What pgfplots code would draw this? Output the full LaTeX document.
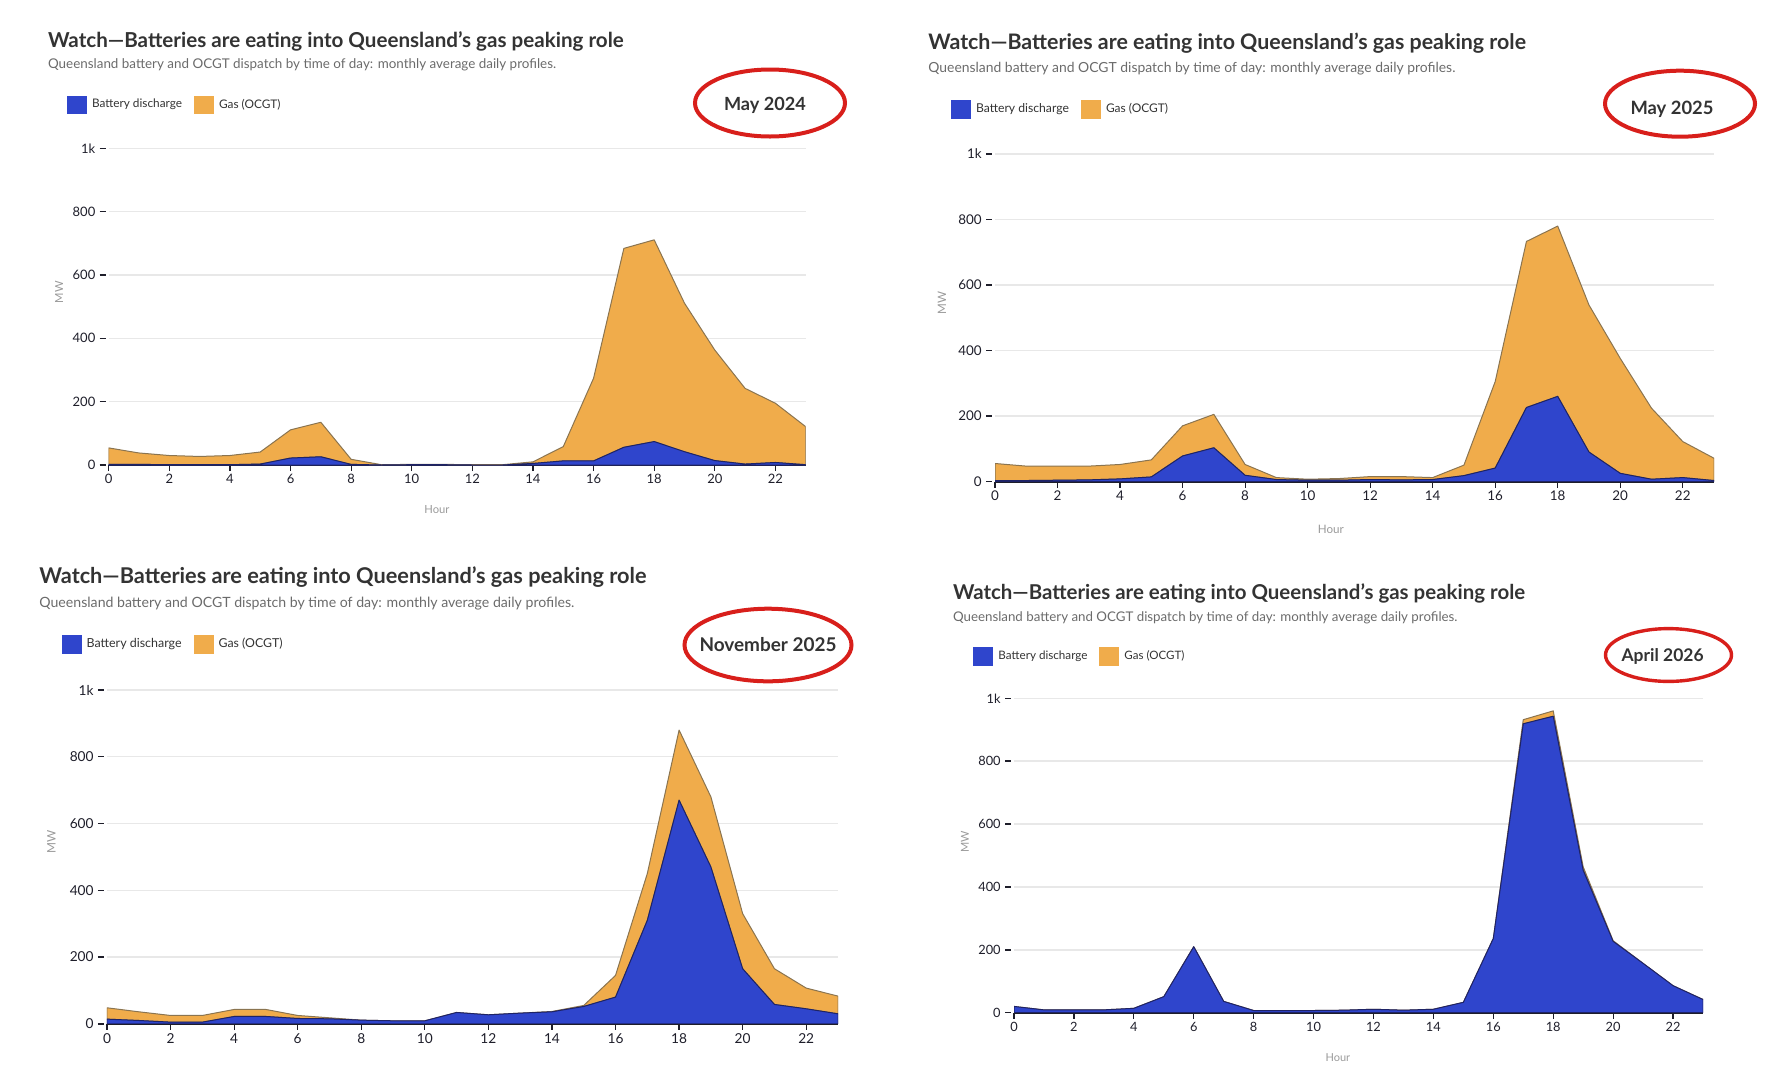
\documentclass[border=0pt]{standalone}
\usepackage{fontspec}
\setmainfont{Lato}
\usepackage{graphicx}
\usepackage{pgfplots}
\pgfplotsset{compat=1.18}

\definecolor{batt}{HTML}{2F45CC}
\definecolor{gas}{HTML}{F0AC4B}
\definecolor{battline}{HTML}{1E2366}
\definecolor{gasline}{HTML}{8A7450}
\definecolor{gridc}{HTML}{E8E8E8}
\definecolor{axisc}{HTML}{1E1E2A}
\definecolor{titlec}{HTML}{333333}
\definecolor{subc}{HTML}{6B6B6B}
\definecolor{labc}{HTML}{9A9A9A}
\definecolor{ringc}{HTML}{D81F1B}

\pgfplotsset{
  panel/.style={
    scale only axis, xmin=0, xmax=23, ymin=0, ymax=1000,
    axis x line*=bottom, axis y line*=left,
    y axis line style={draw=none},
    x axis line style={draw=axisc, line width=1pt},
    xtick={0,2,...,22},
    ytick={0,200,400,600,800,1000},
    yticklabels={0,200,400,600,800,1k},
    tick align=outside,
    major tick length=3pt,
    xtick style={draw=axisc, line width=0.6pt},
    ytick style={draw=axisc, line width=0.7pt, xshift=-1.5pt},
    yticklabel style={xshift=-1.5pt, inner sep=2pt, text=axisc},
    xticklabel style={inner sep=1.5pt, text=axisc},
    /pgf/number format/assume math mode=true,
    ymajorgrids, grid style={draw=gridc, line width=0.7pt},
    stack plots=y,
    legend columns=2,
    legend style={draw=none, fill=none, inner sep=0pt, outer sep=0pt, anchor=west,
      nodes={inner sep=0pt}, cells={anchor=west}, text=titlec,
      /tikz/every odd column/.append style={column sep=2.5pt},
      /tikz/every even column/.append style={column sep=6pt}},
    legend image code/.code={\fill[##1, draw=none] (0pt,-0.47em) rectangle (1em,0.47em);},
    every axis y label/.style={rotate=90, anchor=center, text=labc},
    every axis x label/.style={anchor=center, text=labc},
  },
  battplot/.style={fill=batt, draw=battline, line width=0.5pt, line join=round},
  gasplot/.style={fill=gas, draw=gasline, line width=0.5pt, line join=round},
}

\newcommand{\ttl}{\bfseries Watch—Batteries are eating into Queensland’s gas peaking role}
\newcommand{\sub}{Queensland battery and OCGT dispatch by time of day: monthly average daily profiles.}

\begin{document}
\begin{tikzpicture}
\useasboundingbox (0pt,0pt) rectangle (883.5pt,-538.5pt);

% ---------------- Panel 1: May 2024
\node[anchor=west, inner sep=0pt, text=titlec] at (23.85pt,-20.5pt) {\resizebox{287.75pt}{!}{\ttl}};
\node[anchor=west, inner sep=0pt, text=subc] at (23.85pt,-32.5pt) {\resizebox{254pt}{!}{\sub}};
\node[inner sep=0pt, text=titlec] at (382.5pt,-52.5pt) {\resizebox{41pt}{!}{\bfseries May 2024}};
\draw[ringc, line width=2pt] (385pt,-51.5pt) ellipse [x radius=37.5pt, y radius=16.75pt];
\begin{axis}[panel,
  at={(54.35pt,-232.5pt)}, anchor=south west, width=348.5pt, height=158.35pt,
  legend style={at={(axis description cs:-0.0598,1.1367)}, font=\fontsize{8}{9}\selectfont},
  tick label style={font=\fontsize{6.5}{7.5}\selectfont},
  label style={font=\fontsize{5.6}{6.5}\selectfont},
  xlabel={Hour}, ylabel={MW},
  x label style={at={(axis description cs:0.471,-0.139)}},
  y label style={at={(axis description cs:-0.0713,0.546)}},
]
\addplot[battplot] coordinates {(0,2)(1,2)(2,1)(3,1)(4,1)(5,3)(6,22)(7,26)(8,2)(9,0)(10,1)(11,1)(12,0)(13,0)(14,5)(15,13)(16,13)(17,56)(18,74)(19,42)(20,14)(21,3)(22,8)(23,1)} \closedcycle;
\addlegendentry{\resizebox{45pt}{!}{Battery discharge}}
\addplot[gasplot] coordinates {(0,52)(1,36)(2,29)(3,26)(4,29)(5,38)(6,89)(7,109)(8,16)(9,1)(10,1)(11,1)(12,1)(13,1)(14,5)(15,45)(16,261)(17,628)(18,637)(19,469)(20,349)(21,239)(22,187)(23,120)} \closedcycle;
\addlegendentry{\resizebox{30.75pt}{!}{Gas (OCGT)}}
\draw[axisc, line width=1pt] (axis cs:0,0) -- (axis cs:23,0);
\end{axis}

% ---------------- Panel 2: May 2025
\node[anchor=west, inner sep=0pt, text=titlec] at (464pt,-21.5pt) {\resizebox{298.75pt}{!}{\ttl}};
\node[anchor=west, inner sep=0pt, text=subc] at (464pt,-34.4pt) {\resizebox{263.5pt}{!}{\sub}};
\node[inner sep=0pt, text=titlec] at (836pt,-54.7pt) {\resizebox{41.5pt}{!}{\bfseries May 2025}};
\draw[ringc, line width=2pt] (840pt,-51.85pt) ellipse [x radius=37.5pt, y radius=16.5pt];
\begin{axis}[panel,
  at={(497.5pt,-240.75pt)}, anchor=south west, width=359.5pt, height=163.75pt,
  legend style={at={(axis description cs:-0.0612,1.1362)}, font=\fontsize{8.3}{9}\selectfont},
  tick label style={font=\fontsize{6.7}{7.7}\selectfont},
  label style={font=\fontsize{5.8}{6.7}\selectfont},
  xlabel={Hour}, ylabel={MW},
  x label style={at={(axis description cs:0.467,-0.145)}},
  y label style={at={(axis description cs:-0.0737,0.545)}},
]
\addplot[battplot] coordinates {(0,3)(1,3)(2,4)(3,5)(4,8)(5,14)(6,78)(7,103)(8,19)(9,6)(10,4)(11,4)(12,6)(13,5)(14,6)(15,18)(16,41)(17,226)(18,260)(19,90)(20,25)(21,7)(22,12)(23,3)} \closedcycle;
\addlegendentry{\resizebox{46.5pt}{!}{Battery discharge}}
\addplot[gasplot] coordinates {(0,52)(1,44)(2,43)(3,42)(4,44)(5,52)(6,92)(7,102)(8,33)(9,6)(10,3)(11,5)(12,9)(13,10)(14,6)(15,32)(16,264)(17,507)(18,520)(19,449)(20,351)(21,217)(22,110)(23,68)} \closedcycle;
\addlegendentry{\resizebox{31pt}{!}{Gas (OCGT)}}
\draw[axisc, line width=1pt] (axis cs:0,0) -- (axis cs:23,0);
\end{axis}

% ---------------- Panel 3: November 2025
\node[anchor=west, inner sep=0pt, text=titlec] at (19.5pt,-288.5pt) {\resizebox{303.5pt}{!}{\ttl}};
\node[anchor=west, inner sep=0pt, text=subc] at (19.5pt,-301.7pt) {\resizebox{267.5pt}{!}{\sub}};
\node[inner sep=0pt, text=titlec] at (384pt,-322.25pt) {\resizebox{68.5pt}{!}{\bfseries November 2025}};
\draw[ringc, line width=2pt] (384pt,-322.5pt) ellipse [x radius=41.75pt, y radius=18.15pt];
\begin{axis}[panel,
  at={(53.5pt,-511.9pt)}, anchor=south west, width=365.5pt, height=166.9pt,
  legend style={at={(axis description cs:-0.0621,1.1363)}, font=\fontsize{8.4}{9}\selectfont},
  tick label style={font=\fontsize{6.85}{7.8}\selectfont},
  label style={font=\fontsize{5.9}{6.8}\selectfont},
  ylabel={MW},
  y label style={at={(axis description cs:-0.0759,0.546)}},
]
\addplot[battplot] coordinates {(0,14)(1,10)(2,5)(3,5)(4,22)(5,22)(6,16)(7,15)(8,11)(9,9)(10,9)(11,34)(12,27)(13,32)(14,36)(15,52)(16,80)(17,310)(18,670)(19,470)(20,165)(21,58)(22,45)(23,30)} \closedcycle;
\addlegendentry{\resizebox{47.5pt}{!}{Battery discharge}}
\addplot[gasplot] coordinates {(0,34)(1,26)(2,20)(3,20)(4,21)(5,21)(6,9)(7,3)(8,0)(9,0)(10,0)(11,0)(12,0)(13,0)(14,1)(15,3)(16,65)(17,140)(18,210)(19,210)(20,165)(21,107)(22,62)(23,53)} \closedcycle;
\addlegendentry{\resizebox{32pt}{!}{Gas (OCGT)}}
\draw[axisc, line width=1pt] (axis cs:0,0) -- (axis cs:23,0);
\end{axis}

% ---------------- Panel 4: April 2026
\node[anchor=west, inner sep=0pt, text=titlec] at (476.3pt,-296.6pt) {\resizebox{286pt}{!}{\ttl}};
\node[anchor=west, inner sep=0pt, text=subc] at (476.3pt,-309pt) {\resizebox{252.25pt}{!}{\sub}};
\node[inner sep=0pt, text=titlec] at (831.3pt,-328.35pt) {\resizebox{41pt}{!}{\bfseries April 2026}};
\draw[ringc, line width=1.7pt] (834.25pt,-327.5pt) ellipse [x radius=31.5pt, y radius=13.2pt];
\begin{axis}[panel,
  at={(507pt,-506.35pt)}, anchor=south west, width=344.5pt, height=157.2pt,
  legend style={at={(axis description cs:-0.0588,1.1323)}, font=\fontsize{7.9}{9}\selectfont},
  tick label style={font=\fontsize{6.4}{7.4}\selectfont},
  label style={font=\fontsize{5.5}{6.4}\selectfont},
  xlabel={Hour}, ylabel={MW},
  x label style={at={(axis description cs:0.470,-0.144)}},
  y label style={at={(axis description cs:-0.0711,0.543)}},
]
\addplot[battplot] coordinates {(0,20)(1,9)(2,9)(3,9)(4,14)(5,51)(6,210)(7,36)(8,7)(9,7)(10,7)(11,8)(12,11)(13,8)(14,11)(15,33)(16,236)(17,919)(18,943)(19,453)(20,227)(21,157)(22,86)(23,42)} \closedcycle;
\addlegendentry{\resizebox{44.5pt}{!}{Battery discharge}}
\addplot[gasplot] coordinates {(0,0)(1,0)(2,0)(3,0)(4,0)(5,0)(6,0)(7,0)(8,0)(9,0)(10,0)(11,0)(12,0)(13,0)(14,0)(15,0)(16,0)(17,13)(18,17)(19,11)(20,2)(21,0)(22,0)(23,0)} \closedcycle;
\addlegendentry{\resizebox{30pt}{!}{Gas (OCGT)}}
\draw[axisc, line width=1pt] (axis cs:0,0) -- (axis cs:23,0);
\end{axis}
\end{tikzpicture}
\end{document}
